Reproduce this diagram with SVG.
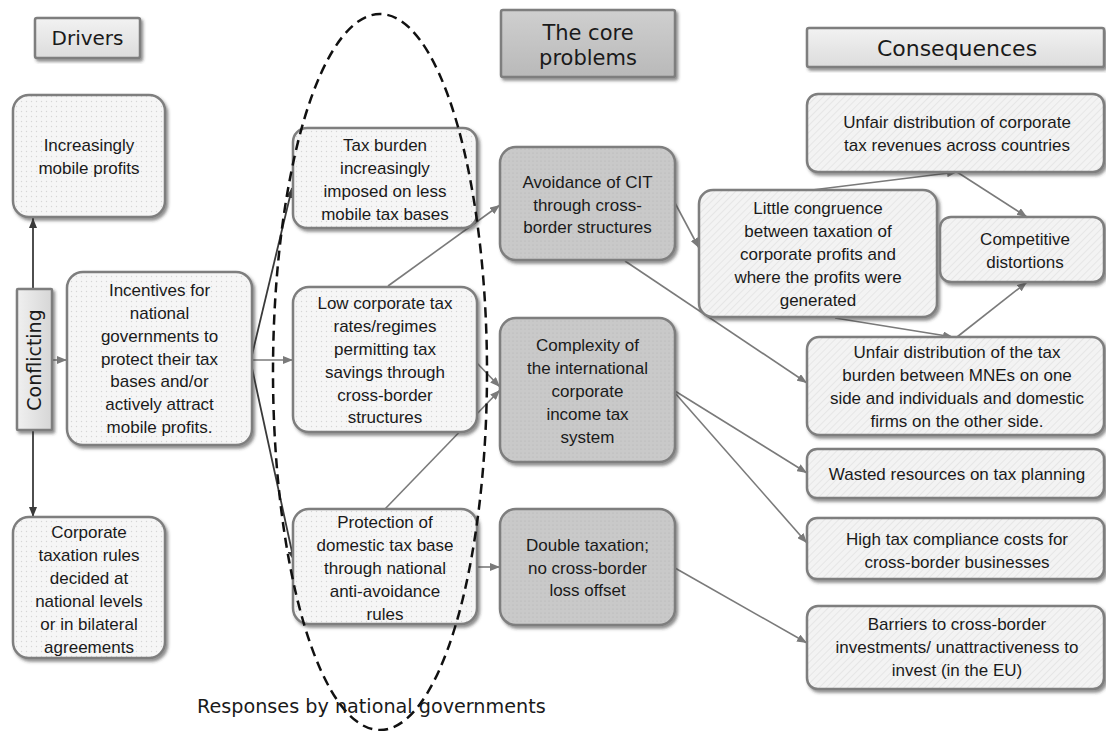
<svg xmlns="http://www.w3.org/2000/svg" width="1106" height="731" viewBox="0 0 1106 731">
<defs>
<style>
.t{font-family:"Liberation Sans",Arial,sans-serif;font-size:17px;fill:#1a1a1a;text-anchor:middle}
.h{font-family:"DejaVu Sans",Verdana,sans-serif;fill:#1a1a1a;text-anchor:middle}
.bx{stroke:#7e7e7e;stroke-width:2.5;filter:url(#sh)}
.drv{fill:url(#dots)}
.core{fill:url(#coreDots)}
.cons{fill:url(#hatch)}
.c{fill:none;stroke:#7a7a7a;stroke-width:1.6;marker-end:url(#ag)}
.d{fill:none;stroke:#3a3a3a;stroke-width:1.8;marker-end:url(#ad)}
</style>
<filter id="sh" x="-10%" y="-10%" width="125%" height="125%">
<feDropShadow dx="2" dy="2.5" stdDeviation="1.5" flood-color="#333" flood-opacity="0.55"/>
</filter>
<pattern id="dots" width="5" height="5" patternUnits="userSpaceOnUse">
<rect width="5" height="5" fill="#f6f6f6"/>
<circle cx="1.5" cy="1.5" r="0.7" fill="#d6d6d6"/>
</pattern>
<pattern id="coreDots" width="4" height="4" patternUnits="userSpaceOnUse">
<rect width="4" height="4" fill="#c9c9c9"/>
<circle cx="1" cy="1" r="0.6" fill="#b4b4b4"/>
</pattern>
<pattern id="hatch" width="5" height="5" patternUnits="userSpaceOnUse" patternTransform="rotate(45)">
<rect width="5" height="5" fill="#f3f3f3"/>
<line x1="0" y1="0" x2="0" y2="5" stroke="#dedede" stroke-width="1.2"/>
</pattern>
<linearGradient id="hdr" x1="0" y1="0" x2="0" y2="1">
<stop offset="0" stop-color="#f2f2f2"/><stop offset="1" stop-color="#dcdcdc"/>
</linearGradient>
<linearGradient id="hdrCore" x1="0" y1="0" x2="0" y2="1">
<stop offset="0" stop-color="#cfcfcf"/><stop offset="1" stop-color="#b9b9b9"/>
</linearGradient>
<linearGradient id="hdrV" x1="0" y1="0" x2="1" y2="0">
<stop offset="0" stop-color="#f0f0f0"/><stop offset="1" stop-color="#d6d6d6"/>
</linearGradient>
<marker id="ag" viewBox="0 0 10 8" refX="10" refY="4" markerWidth="10" markerHeight="8" markerUnits="userSpaceOnUse" orient="auto">
<path d="M0,0 L10,4 L0,8 Z" fill="#7a7a7a"/>
</marker>
<marker id="ad" viewBox="0 0 10 8" refX="10" refY="4" markerWidth="10" markerHeight="8" markerUnits="userSpaceOnUse" orient="auto">
<path d="M0,0 L10,4 L0,8 Z" fill="#3a3a3a"/>
</marker>
</defs>
<rect width="1106" height="731" fill="#ffffff"/>

<!-- headers -->
<g id="hdr-drivers">
<rect x="35" y="18" width="105" height="40" rx="2" fill="url(#hdr)" class="bx"/>
<text x="87.5" y="45" class="h" font-size="20">Drivers</text>
</g>
<g id="hdr-core">
<rect x="501" y="10" width="174" height="67" rx="2" fill="url(#hdrCore)" class="bx"/>
<text x="588" y="40" class="h" font-size="21">The core</text>
<text x="588" y="65" class="h" font-size="21">problems</text>
</g>
<g id="hdr-consequences">
<rect x="807" y="28" width="297" height="39" rx="2" fill="url(#hdr)" class="bx"/>
<text x="957" y="56" class="h" font-size="22">Consequences</text>
</g>

<!-- connectors -->
<g id="connectors">
<line x1="33" y1="289" x2="33" y2="218" class="d"/>
<line x1="33" y1="430" x2="33" y2="517" class="d"/>
<line x1="252" y1="355" x2="292" y2="188" class="d"/>
<line x1="252" y1="368" x2="294" y2="561" class="d"/>
<line x1="52" y1="360" x2="67" y2="360" class="c"/>
<line x1="252" y1="360" x2="293" y2="360" class="c"/>
<line x1="388" y1="286" x2="500" y2="205" class="c"/>
<line x1="476" y1="362" x2="500" y2="387" class="c"/>
<line x1="385" y1="509" x2="500" y2="390" class="c"/>
<line x1="476" y1="567" x2="500" y2="567" class="c"/>
<line x1="675" y1="203" x2="699" y2="248" class="c"/>
<line x1="625" y1="261" x2="807" y2="383" class="c"/>
<line x1="812" y1="190" x2="957" y2="172" class="c"/>
<line x1="957" y1="172" x2="1027" y2="217" class="c"/>
<line x1="835" y1="318" x2="953" y2="337" class="c"/>
<line x1="957" y1="337" x2="1027" y2="282" class="c"/>
<line x1="675" y1="391" x2="807" y2="473" class="c"/>
<line x1="675" y1="393" x2="807" y2="543" class="c"/>
<line x1="675" y1="568" x2="807" y2="643" class="c"/>
</g>

<!-- drivers -->
<g id="n-mobile">
<rect x="13" y="95" width="152" height="122" rx="16" class="bx drv"/>
<text class="t" x="89"><tspan x="89" y="151">Increasingly</tspan><tspan x="89" y="174">mobile profits</tspan></text>
</g>
<g id="n-conflicting">
<rect x="17" y="289" width="35" height="141" rx="1" fill="url(#hdrV)" class="bx"/>
<text x="0" y="0" class="h" font-size="19" transform="translate(41,360) rotate(-90)">Conflicting</text>
</g>
<g id="n-incentives">
<rect x="67" y="272" width="185" height="173" rx="16" class="bx drv"/>
<text class="t"><tspan x="159.5" y="296">Incentives for</tspan><tspan x="159.5" y="319">national</tspan><tspan x="159.5" y="342">governments to</tspan><tspan x="159.5" y="365">protect their tax</tspan><tspan x="159.5" y="387">bases and/or</tspan><tspan x="159.5" y="410">actively attract</tspan><tspan x="159.5" y="433">mobile profits.</tspan></text>
</g>
<g id="n-rules">
<rect x="13" y="517" width="152" height="141" rx="16" class="bx drv"/>
<text class="t"><tspan x="89" y="538">Corporate</tspan><tspan x="89" y="561">taxation rules</tspan><tspan x="89" y="584">decided at</tspan><tspan x="89" y="607">national levels</tspan><tspan x="89" y="630">or in bilateral</tspan><tspan x="89" y="653">agreements</tspan></text>
</g>

<!-- responses -->
<g id="n-burden">
<rect x="293" y="128" width="184" height="100" rx="14" class="bx drv"/>
<text class="t"><tspan x="385" y="151">Tax burden</tspan><tspan x="385" y="174">increasingly</tspan><tspan x="385" y="197">imposed on less</tspan><tspan x="385" y="220">mobile tax bases</tspan></text>
</g>
<g id="n-lowrates">
<rect x="293" y="287" width="184" height="145" rx="16" class="bx drv"/>
<text class="t"><tspan x="385" y="309">Low corporate tax</tspan><tspan x="385" y="332">rates/regimes</tspan><tspan x="385" y="355">permitting tax</tspan><tspan x="385" y="378">savings through</tspan><tspan x="385" y="401">cross-border</tspan><tspan x="385" y="423">structures</tspan></text>
</g>
<g id="n-protection">
<rect x="293" y="509" width="184" height="115" rx="16" class="bx drv"/>
<text class="t"><tspan x="385" y="528">Protection of</tspan><tspan x="385" y="551">domestic tax base</tspan><tspan x="385" y="574">through national</tspan><tspan x="385" y="597">anti-avoidance</tspan><tspan x="385" y="620">rules</tspan></text>
</g>

<!-- core problems -->
<g id="n-avoidance">
<rect x="500" y="147" width="175" height="113" rx="16" class="bx core"/>
<text class="t"><tspan x="587.5" y="188">Avoidance of CIT</tspan><tspan x="587.5" y="211">through cross-</tspan><tspan x="587.5" y="233">border structures</tspan></text>
</g>
<g id="n-complexity">
<rect x="500" y="318" width="175" height="144" rx="16" class="bx core"/>
<text class="t"><tspan x="587.5" y="351">Complexity of</tspan><tspan x="587.5" y="374">the international</tspan><tspan x="587.5" y="397">corporate</tspan><tspan x="587.5" y="420">income tax</tspan><tspan x="587.5" y="443">system</tspan></text>
</g>
<g id="n-double">
<rect x="500" y="509" width="175" height="116" rx="16" class="bx core"/>
<text class="t"><tspan x="587.5" y="551">Double taxation;</tspan><tspan x="587.5" y="574">no cross-border</tspan><tspan x="587.5" y="596">loss offset</tspan></text>
</g>

<!-- consequences -->
<g id="n-revenues">
<rect x="807" y="94" width="297" height="78" rx="11" class="bx cons"/>
<text class="t"><tspan x="957" y="128">Unfair distribution of corporate</tspan><tspan x="957" y="151">tax revenues across countries</tspan></text>
</g>
<g id="n-congruence">
<rect x="699" y="190" width="238" height="127" rx="14" class="bx cons"/>
<text class="t"><tspan x="818" y="214">Little congruence</tspan><tspan x="818" y="237">between taxation of</tspan><tspan x="818" y="260">corporate profits and</tspan><tspan x="818" y="283">where the profits were</tspan><tspan x="818" y="306">generated</tspan></text>
</g>
<g id="n-competitive">
<rect x="940" y="217" width="164" height="65" rx="11" class="bx cons"/>
<text class="t"><tspan x="1025" y="245">Competitive</tspan><tspan x="1025" y="268">distortions</tspan></text>
</g>
<g id="n-taxburden">
<rect x="807" y="337" width="297" height="98" rx="12" class="bx cons"/>
<text class="t"><tspan x="957" y="358">Unfair distribution of the tax</tspan><tspan x="957" y="381">burden between MNEs on one</tspan><tspan x="957" y="404">side and individuals and domestic</tspan><tspan x="957" y="427">firms on the other side.</tspan></text>
</g>
<g id="n-wasted">
<rect x="807" y="449" width="297" height="49" rx="10" class="bx cons"/>
<text class="t" x="957" y="480">Wasted resources on tax planning</text>
</g>
<g id="n-compliance">
<rect x="807" y="518" width="297" height="61" rx="10" class="bx cons"/>
<text class="t"><tspan x="957" y="545">High tax compliance costs for</tspan><tspan x="957" y="568">cross-border businesses</tspan></text>
</g>
<g id="n-barriers">
<rect x="807" y="606" width="297" height="83" rx="11" class="bx cons"/>
<text class="t"><tspan x="957" y="630">Barriers to cross-border</tspan><tspan x="957" y="653">investments/ unattractiveness to</tspan><tspan x="957" y="676">invest (in the EU)</tspan></text>
</g>

<!-- responses group outline -->
<g id="responses-outline">
<ellipse cx="380" cy="372" rx="107" ry="358" fill="none" stroke="#111" stroke-width="2.5" stroke-dasharray="10 6"/>
<text x="197" y="713" class="h" font-size="19.2" style="text-anchor:start">Responses by national governments</text>
</g>
</svg>
